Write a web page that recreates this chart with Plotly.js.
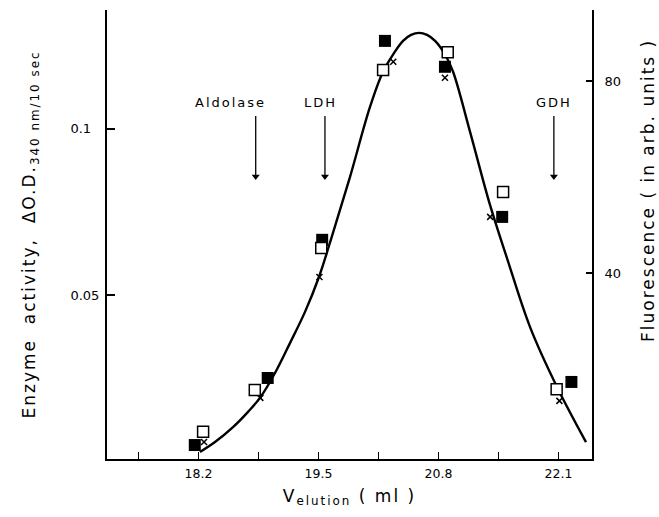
<!DOCTYPE html>
<html>
<head>
<meta charset="utf-8">
<script src="https://cdn.plot.ly/plotly-3.0.1.min.js"></script>
<style>
  html, body { margin: 0; padding: 0; background: #fff; }
  #chart { width: 659px; height: 517px; }
  .ytitle, .xtitle, .annotation-text { letter-spacing: 2px; }
</style>
</head>
<body>
<div id="chart"></div>
<script>
// Elution volume (ml) and measured values
const elutionFilled = [18.16, 18.95, 19.54, 20.22, 20.87, 21.49, 22.24];
const activityFilled = [0.0048, 0.0250, 0.0666, 0.1265, 0.1187, 0.0735, 0.0238];

const elutionOpen = [18.25, 18.81, 19.53, 20.20, 20.90, 21.50, 22.08];
const fluorescenceOpen = [6.9, 15.6, 45.2, 82.3, 86.0, 56.9, 15.8];

const elutionCross = [18.26, 18.87, 19.51, 20.31, 20.87, 21.36, 22.11];
const activityCross = [0.0057, 0.0190, 0.0554, 0.1202, 0.1154, 0.0735, 0.0181];

// Smooth elution profile
const curveElution = [18.216, 18.379, 18.574, 18.737, 18.866, 19.029, 19.191, 19.354, 19.505, 19.657, 19.841, 20.058, 20.199, 20.308, 20.416, 20.503, 20.590, 20.676, 20.763, 20.871, 20.958, 21.142, 21.358, 21.542, 21.791, 22.084, 22.398];
const curveActivity = [0.0027, 0.0057, 0.0102, 0.0148, 0.0190, 0.0265, 0.0355, 0.0449, 0.0554, 0.0687, 0.0855, 0.1066, 0.1172, 0.1224, 0.1265, 0.1283, 0.1289, 0.1283, 0.1265, 0.1224, 0.1172, 0.0991, 0.0771, 0.0611, 0.0404, 0.0223, 0.0057];

// Marker enzymes: name, elution position, arrow extent (activity units)
const markerNames = ['Aldolase', 'LDH', 'GDH'];
const markerElution = [18.82, 19.57, 22.05];
const markerLabelElution = [18.55, 19.52, 22.05];
const arrowTop = 0.1039;
const arrowHead = 0.0857;
const labelLevel = 0.1078;

const xTickVals = [18.2, 19.5, 20.8, 22.1];
const xTickText = ['18.2', '19.5', '20.8', '22.1'];
const xMinorVals = [17.55, 18.85, 20.15, 21.45];
const yTickVals = [0.05, 0.1];
const yTickText = ['0.05', '0.1\u2007'];
const y2TickVals = [40, 80];
const y2TickText = ['40', '80'];

const FONT = 'DejaVu Sans, sans-serif';

// arrow shafts for the marker enzymes
const shaftX = [], shaftY = [];
markerElution.forEach(v => { shaftX.push(v, v, null); shaftY.push(arrowTop, arrowHead, null); });

const traces = [
  {
    x: curveElution, y: curveActivity, type: 'scatter', mode: 'lines',
    line: { color: '#000', width: 2.4, shape: 'spline', smoothing: 1 },
    hoverinfo: 'skip', showlegend: false
  },
  {
    x: shaftX, y: shaftY, type: 'scatter', mode: 'lines',
    line: { color: '#000', width: 1.3 }, showlegend: false, hoverinfo: 'skip'
  },
  {
    x: markerElution, y: markerElution.map(() => arrowHead), type: 'scatter', mode: 'markers',
    marker: { symbol: 'triangle-down', size: 7, color: '#000', line: { width: 0 } },
    showlegend: false, hoverinfo: 'skip'
  },
  {
    x: elutionCross, y: activityCross, type: 'scatter', mode: 'markers',
    marker: { symbol: 'x-thin-open', size: 6, color: '#000', line: { color: '#000', width: 1.5 } },
    showlegend: false
  },
  {
    x: elutionFilled, y: activityFilled, type: 'scatter', mode: 'markers',
    marker: { symbol: 'square', size: 12, color: '#000', line: { width: 0 } },
    showlegend: false
  },
  {
    x: elutionOpen, y: fluorescenceOpen, type: 'scatter', mode: 'markers', yaxis: 'y2',
    marker: { symbol: 'square', size: 11, color: '#fff', line: { color: '#000', width: 1.5 } },
    showlegend: false
  }
];

const annotations = markerNames.map((name, i) => ({
  x: markerLabelElution[i], y: labelLevel, xref: 'x', yref: 'y',
  text: name, showarrow: false,
  font: { family: FONT, size: 13, color: '#000' }
}));
annotations.push({
  x: 1.1155, y: 0.597, xref: 'paper', yref: 'paper',
  text: 'Fluorescence ( in arb. units )', textangle: -90, showarrow: false,
  xanchor: 'center', yanchor: 'middle',
  font: { family: FONT, size: 17, color: '#000' }
});

const layout = {
  width: 659, height: 517,
  margin: { l: 107, r: 67, t: 10, b: 58 },
  paper_bgcolor: '#fff', plot_bgcolor: '#fff',
  font: { family: FONT, color: '#000' },
  showlegend: false,
  xaxis: {
    range: [17.209, 22.463], showgrid: false, zeroline: false,
    showline: true, linecolor: '#000', linewidth: 2, mirror: false,
    tickvals: xTickVals, ticktext: xTickText,
    ticks: 'inside', ticklen: 7, tickwidth: 1.5, tickcolor: '#000',
    ticklabelstandoff: 2,
    minor: { tickvals: xMinorVals, ticks: 'inside', ticklen: 7, tickwidth: 1.5, tickcolor: '#000', showgrid: false },
    tickfont: { family: FONT, size: 12.5, color: '#000' },
    title: { text: 'V<sub>elution</sub> ( ml )', font: { family: FONT, size: 17, color: '#000' }, standoff: 10 }
  },
  yaxis: {
    range: [0.0006, 0.1358], showgrid: false, zeroline: false,
    showline: true, linecolor: '#000', linewidth: 2, mirror: false,
    tickvals: yTickVals, ticktext: yTickText,
    ticks: 'inside', ticklen: 8, tickwidth: 1.5, tickcolor: '#000',
    ticklabelstandoff: 3,
    tickfont: { family: FONT, size: 13, color: '#000' },
    title: { text: 'Enzyme  activity,  ΔO.D.<sub>340 nm/10 sec</sub>', font: { family: FONT, size: 17, color: '#000' }, standoff: 30 }
  },
  yaxis2: {
    overlaying: 'y', side: 'right',
    range: [1.24, 94.8], showgrid: false, zeroline: false,
    showline: true, linecolor: '#000', linewidth: 2, mirror: false,
    tickvals: y2TickVals, ticktext: y2TickText,
    ticks: 'inside', ticklen: 6, tickwidth: 1.5, tickcolor: '#000',
    ticklabelstandoff: 8,
    tickfont: { family: FONT, size: 13, color: '#000' }
  },
  annotations: annotations
};

Plotly.newPlot('chart', traces, layout, { staticPlot: true, displayModeBar: false });
</script>
</body>
</html>
